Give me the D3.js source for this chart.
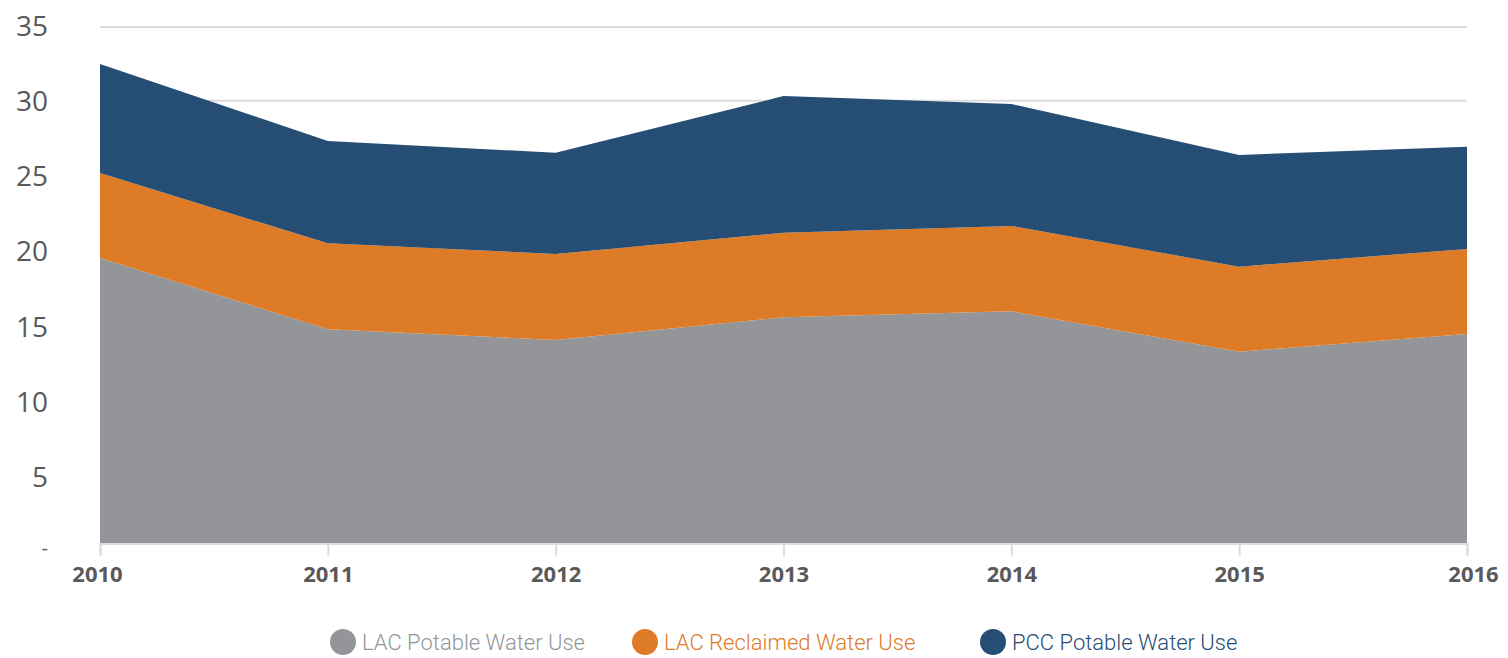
<!DOCTYPE html>
<html>
<head>
<meta charset="utf-8">
<script src="https://cdn.jsdelivr.net/npm/d3@7"></script>
<style>
  body { margin: 0; background: #fff; }
  svg { display: block; }
</style>
</head>
<body>
<script>
'use strict';

// chart data
const years = [2010, 2011, 2012, 2013, 2014, 2015, 2016];
const lacPotable = [19.35, 14.52, 13.79, 15.33, 15.73, 13.0, 14.2];
const lacReclaimed = [5.76, 5.82, 5.83, 5.73, 5.79, 5.76, 5.76];
const pccPotable = [7.38, 6.93, 6.86, 9.26, 8.26, 7.57, 6.92];
const yTicks = [0, 5, 10, 15, 20, 25, 30, 35];
const seriesNames = ['LAC Potable Water Use', 'LAC Reclaimed Water Use', 'PCC Potable Water Use'];

(function() {
    const width = 1508, height = 658;
    const colors = ['#939598', '#dd7b27', '#264d74'];

    const svg = d3.select('body').append('svg')
        .attr('width', width)
        .attr('height', height);

    // build table for the stack
    const table = years.map((y, i) => ({
        year: y,
        s0: lacPotable[i],
        s1: lacReclaimed[i],
        s2: pccPotable[i]
    }));
    const stack = d3.stack().keys(['s0', 's1', 's2'])(table);

    const x = d3.scaleLinear()
        .domain([2010, 2016])
        .range([100, 1467]);
    const y = d3.scaleLinear()
        .domain([0, 35])
        .range([543.5, 27]);
    // the tick labels sit on a slightly wider spacing than the gridlines
    const yLabel = d3.scaleLinear()
        .domain([0, 35])
        .range([552, 25]);

    // gridlines
    svg.append('g')
        .selectAll('line')
        .data(yTicks.filter(d => d > 0))
        .enter()
        .append('line')
            .attr('x1', x(2010))
            .attr('x2', x(2016))
            .attr('y1', d => y(d))
            .attr('y2', d => y(d))
            .attr('stroke', '#dcdcdc')
            .attr('stroke-width', 2);

    // stacked areas
    const area = d3.area()
        .x(d => x(d.data.year))
        .y0(d => y(d[0]))
        .y1(d => y(d[1]));

    svg.append('g')
        .selectAll('path')
        .data(stack)
        .enter()
        .append('path')
            .attr('d', area)
            .attr('fill', (d, i) => colors[i]);

    // x axis
    const xAxis = d3.axisBottom(x)
        .tickValues(years)
        .tickFormat(d3.format('d'))
        .tickSize(12)
        .tickPadding(11);
    const gx = svg.append('g')
        .attr('transform', 'translate(0,' + y(0) + ')')
        .call(xAxis);
    gx.select('.domain')
        .attr('stroke', '#dcdcdc')
        .attr('stroke-width', 2);
    gx.selectAll('.tick line')
        .attr('stroke', '#dcdcdc')
        .attr('stroke-width', 2);
    gx.selectAll('.tick text')
        .attr('fill', '#595959')
        .style('font-family', '"Open Sans", sans-serif')
        .style('font-weight', 'bold')
        .style('font-size', '22px');
    gx.selectAll('.tick')
        .filter(d => d === 2016)
        .select('text')
        .attr('dx', 6);
    gx.selectAll('.tick')
        .filter(d => d === 2010)
        .select('text')
        .attr('dx', -3);

    // y axis labels
    const yAxis = d3.axisLeft(yLabel)
        .tickValues(yTicks)
        .tickFormat(d => d === 0 ? '-' : d)
        .tickSize(0)
        .tickPadding(52);
    const gy = svg.append('g')
        .attr('transform', 'translate(100,0)')
        .call(yAxis);
    gy.select('.domain').remove();
    gy.selectAll('.tick text')
        .attr('fill', '#595959')
        .attr('dy', '0.36em')
        .style('font-family', '"Open Sans", sans-serif')
        .style('font-size', '28px');
    gy.selectAll('.tick')
        .filter(d => d === 0)
        .select('text')
        .attr('dy', '0.1em')
        .style('font-size', '20px');

    // legend
    const legendX = [343, 645, 993];
    const legend = svg.append('g')
        .selectAll('g')
        .data(seriesNames)
        .enter()
        .append('g')
            .attr('transform', (d, i) => 'translate(' + legendX[i] + ',' + 642 + ')');
    legend.append('circle')
        .attr('r', 13)
        .attr('fill', (d, i) => colors[i]);
    legend.append('text')
        .attr('x', 19)
        .attr('dy', '0.35em')
        .attr('fill', (d, i) => colors[i])
        .style('font-family', 'Roboto, sans-serif')
        .style('font-weight', 300)
        .style('font-size', '22px')
        .text(d => d);
})();
</script>
</body>
</html>
